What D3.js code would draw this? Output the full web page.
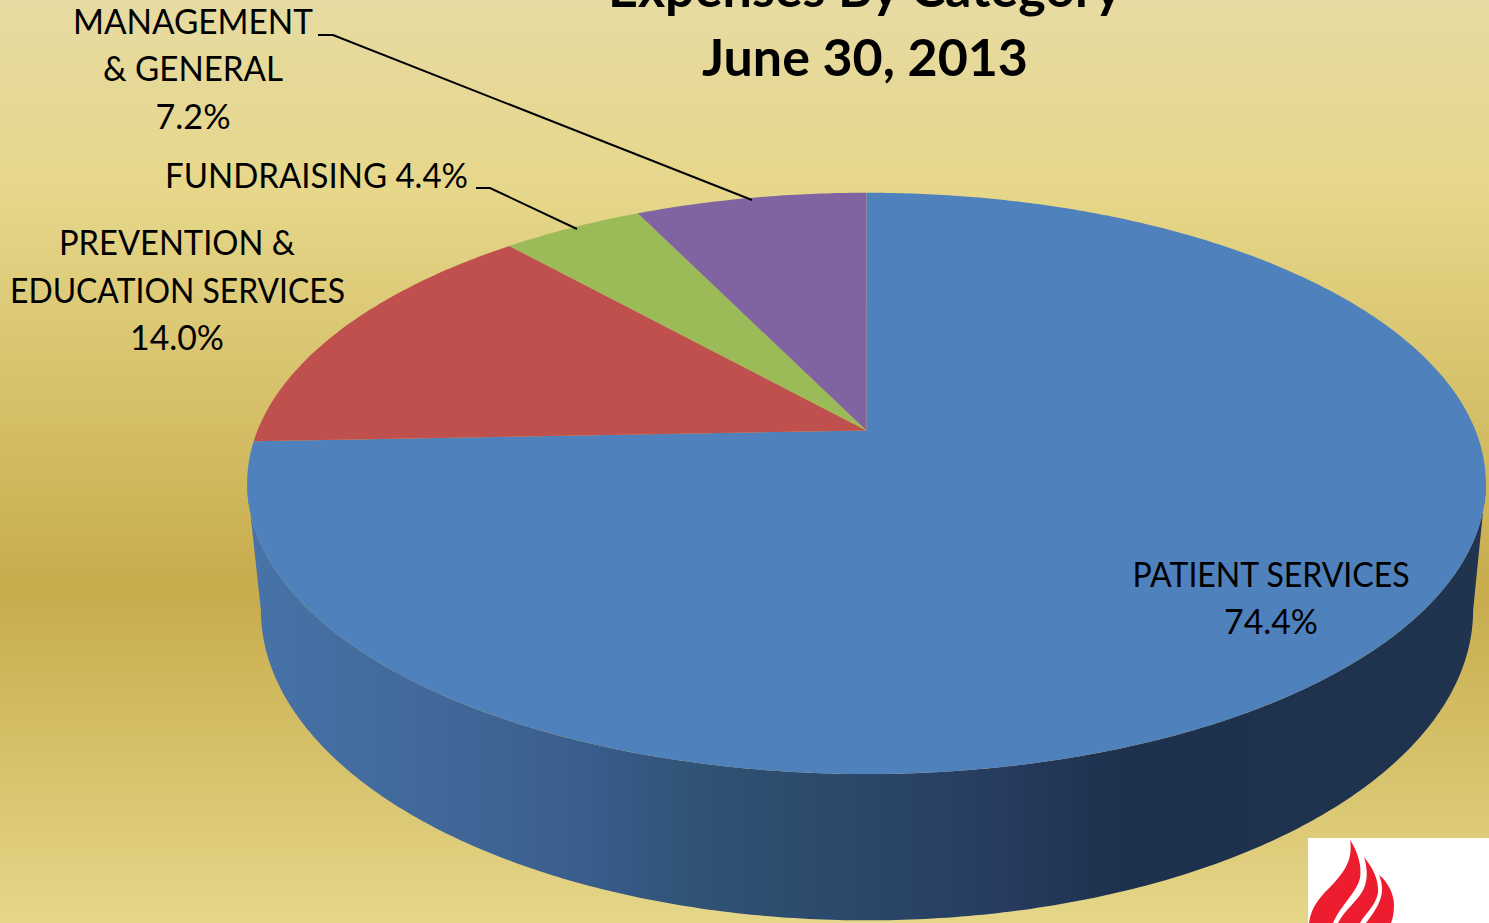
<!DOCTYPE html>
<html>
<head>
<meta charset="utf-8">
<script src="https://d3js.org/d3.v7.min.js"></script>
<style>
  body { margin: 0; overflow: hidden; }
  text { font-family: Lato, "Open Sans", sans-serif; fill: #000; }
</style>
</head>
<body>
<script>
var width = 1489, height = 923;

// the chart values, clockwise from 12 o'clock
var categories = ["PATIENT SERVICES", "PREVENTION & EDUCATION SERVICES", "FUNDRAISING", "MANAGEMENT & GENERAL"];
var values = [74.4, 14.0, 4.4, 7.2];
var sliceColors = ["#4f81bd", "#c0504d", "#9bbb59", "#8064a2"];
var titleLines = ["Expenses By Category", "June 30, 2013"];

var svg = d3.select("body").append("svg").attr("width", width).attr("height", height).style("display", "block");
var defs = svg.append("defs");

// gold preset background, its top and bottom are cropped off by the picture
var bg = defs.append("linearGradient").attr("id", "bg")
  .attr("gradientUnits", "userSpaceOnUse").attr("x1", 0).attr("x2", 0).attr("y1", -77).attr("y2", 1256);
[[0, "#e6dcac"], [0.2, "#e6d78a"], [0.5, "#c7ac4c"], [0.755, "#e6d78a"], [1, "#e6dcac"]].forEach(function(s) {
  bg.append("stop").attr("offset", s[0]).attr("stop-color", s[1]);
});
svg.append("rect").attr("width", width).attr("height", height).attr("fill", "url(#bg)");

// side wall shading runs left to right
var wall = defs.append("linearGradient").attr("id", "wall")
  .attr("gradientUnits", "userSpaceOnUse").attr("x1", 250).attr("x2", 1485).attr("y1", 0).attr("y2", 0);
[[0, "#4773a8"], [0.2, "#3e6494"], [0.283, "#385c8a"], [0.364, "#305275"], [0.5, "#2a4768"], [0.607, "#273c5f"], [0.712, "#1d304c"], [1, "#20344f"]].forEach(function(s) {
  wall.append("stop").attr("offset", s[0]).attr("stop-color", s[1]);
});

// perspective from a flat circle to the screen: the top face and the lower rim
var k = 0.182;
function disc(cx, cy, rx, ry) {
  return function(a) {
    var X = Math.sin(a), Y = -Math.cos(a), w = 1 - k * Y;
    return [cx + rx * X / w, cy + ry * Y / w];
  };
}
var topFace = disc(866.5, 430.5, 609, 281);
var lowRim = disc(867, 553.6, 596, 300);

function arcPoints(fn, a0, a1) {
  var n = Math.max(2, Math.ceil(Math.abs(a1 - a0) / 0.01));
  return d3.range(n + 1).map(function(i) { return fn(a0 + (a1 - a0) * i / n); });
}
var line = d3.line();

// wall goes between the two silhouette angles
var silhouette = Math.acos(k);
var aRight = Math.PI - silhouette, aLeft = Math.PI + silhouette;
svg.append("path")
  .attr("d", line(arcPoints(topFace, aRight, aLeft).concat(arcPoints(lowRim, aLeft, aRight))) + "Z")
  .attr("fill", "url(#wall)");

// slices
var pie = d3.pie().sort(null).startAngle(0).endAngle(2 * Math.PI);
var color = d3.scaleOrdinal().domain(categories).range(sliceColors);
svg.append("g").selectAll("path")
  .data(pie(values))
  .join("path")
  .attr("fill", function(d, i) { return color(categories[i]); })
  .attr("d", function(d) {
    return line([[866.5, 430.5]].concat(arcPoints(topFace, d.startAngle, d.endAngle))) + "Z";
  });

// title
svg.append("g").selectAll("text")
  .data(titleLines)
  .join("text")
  .attr("x", 865)
  .attr("y", function(d, i) { return 7 + i * 69; })
  .attr("text-anchor", "middle")
  .attr("font-size", 52)
  .attr("font-weight", 700)
  .attr("textLength", function(d, i) { return i == 0 ? 514 : 326; })
  .attr("lengthAdjust", "spacingAndGlyphs")
  .text(function(d) { return d; });

// labels, one entry per printed line
var pct = function(i) { return d3.format(".1f")(values[i]) + "%"; };
var labels = [
  { t: "MANAGEMENT", x: 193, y: 34, w: 240 },
  { t: "& GENERAL", x: 193, y: 81, w: 180 },
  { t: pct(3), x: 193, y: 129, w: 75 },
  { t: categories[2] + " " + pct(2), x: 316.5, y: 188, w: 303 },
  { t: "PREVENTION &", x: 177, y: 255, w: 236 },
  { t: "EDUCATION SERVICES", x: 177.5, y: 302.5, w: 335 },
  { t: pct(1), x: 177, y: 350, w: 94 },
  { t: categories[0], x: 1271, y: 587, w: 277 },
  { t: pct(0), x: 1271, y: 634, w: 94 }
];
svg.append("g").selectAll("text")
  .data(labels)
  .join("text")
  .attr("x", function(d) { return d.x; })
  .attr("y", function(d) { return d.y; })
  .attr("text-anchor", "middle")
  .attr("font-size", 34)
  .attr("textLength", function(d) { return d.w; })
  .attr("lengthAdjust", "spacingAndGlyphs")
  .text(function(d) { return d.t; });

// leader lines
var leaders = [
  [[318, 35], [333, 35], [752, 200]],
  [[476, 188], [490, 188], [577, 229]]
];
svg.append("g").selectAll("path")
  .data(leaders)
  .join("path")
  .attr("d", line)
  .attr("fill", "none")
  .attr("stroke", "#000")
  .attr("stroke-width", 2);

// logo in the corner
var logo = svg.append("g");
logo.append("rect").attr("x", 1308).attr("y", 838).attr("width", 181).attr("height", 85).attr("fill", "#fff");
[
  "M1350,840 C1358,852 1362,866 1360,878 C1357,892 1341,905 1333,923 L1309,923 C1311,906 1322,895 1333,884 C1346,870 1353,858 1350,840Z",
  "M1364,857 C1373,868 1379,880 1378,893 C1376,905 1365,914 1360,923 L1338,923 C1345,910 1356,902 1362,892 C1368,882 1368,870 1364,857Z",
  "M1379,875 C1388,882 1394,894 1394,905 C1394,912 1393,918 1391,923 L1366,923 C1372,915 1378,907 1381,897 C1383,890 1382,882 1379,875Z"
].forEach(function(d) {
  logo.append("path").attr("d", d).attr("fill", "#ed1c2e");
});
</script>
</body>
</html>
